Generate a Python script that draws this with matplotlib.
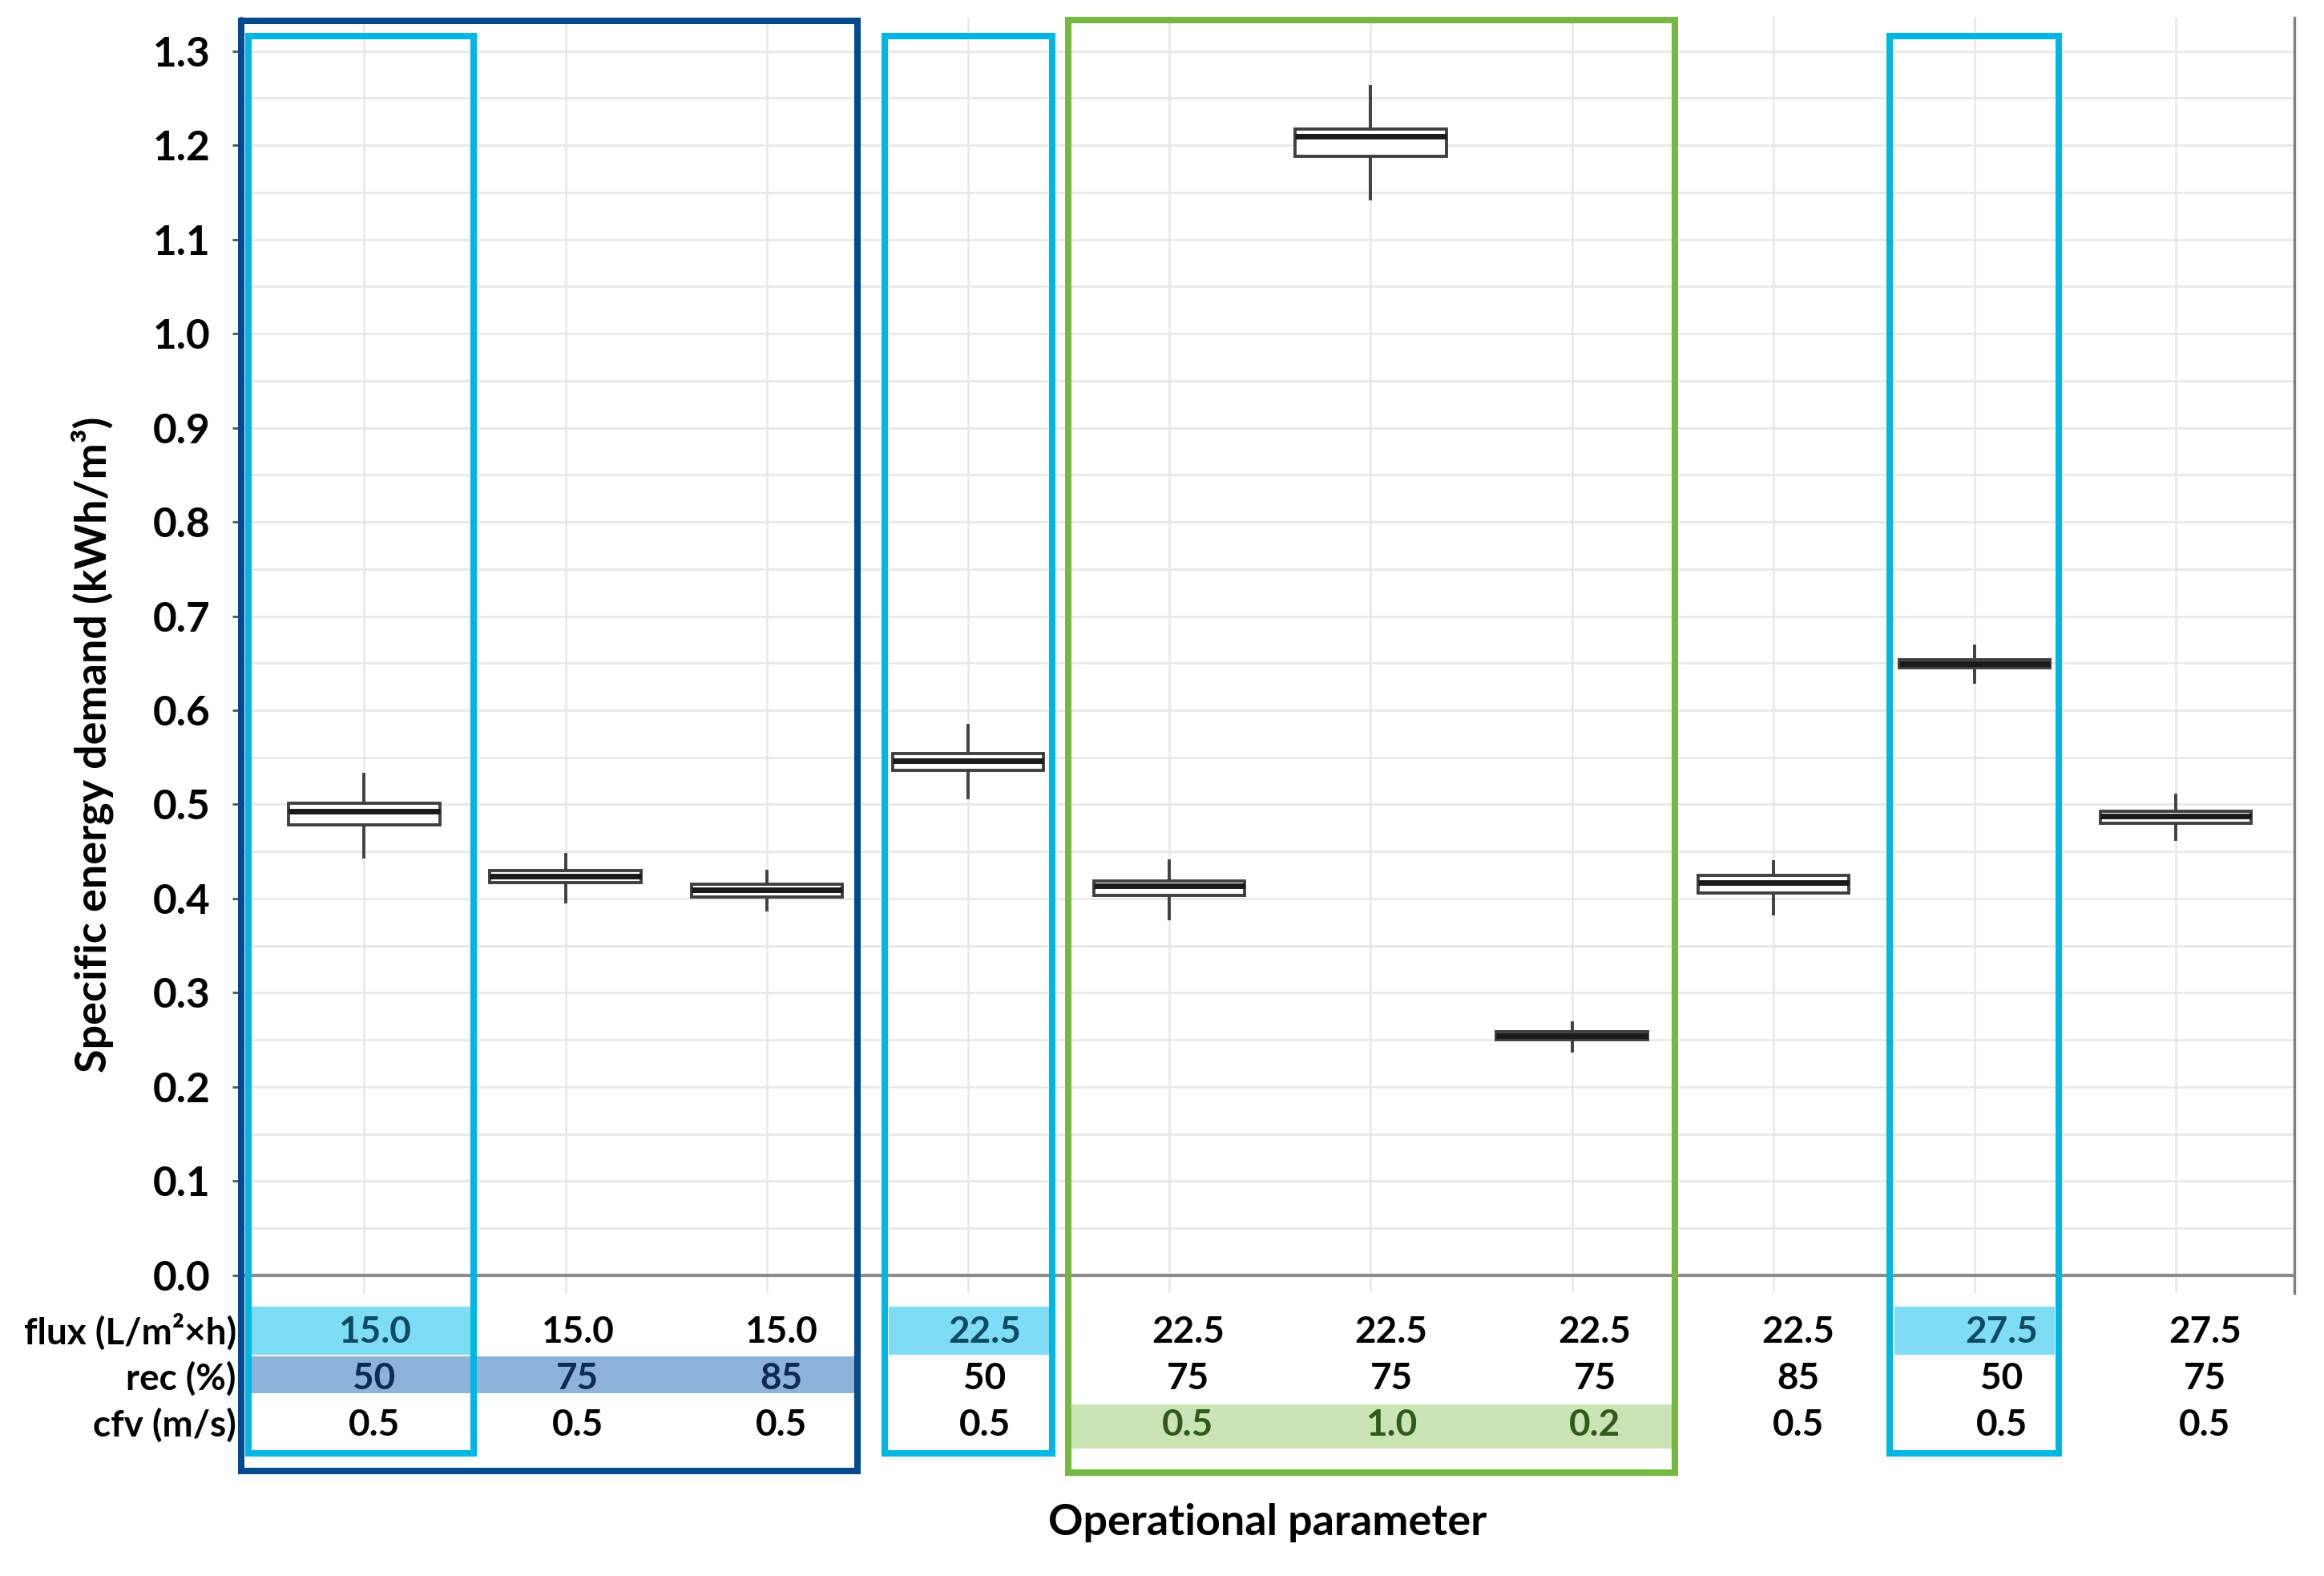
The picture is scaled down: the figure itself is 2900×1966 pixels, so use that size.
import matplotlib
matplotlib.use("Agg")
import matplotlib.pyplot as plt
from matplotlib.patches import Rectangle
import numpy as np

plt.rcParams['font.family'] = ['Lato', 'DejaVu Sans']
plt.rcParams['font.weight'] = 'bold'

# ---------------- data ----------------
flux = ["15.0", "15.0", "15.0", "22.5", "22.5", "22.5", "22.5", "22.5", "27.5", "27.5"]
rec = ["50", "75", "85", "50", "75", "75", "75", "85", "50", "75"]
cfv = ["0.5", "0.5", "0.5", "0.5", "0.5", "1.0", "0.2", "0.5", "0.5", "0.5"]
row_labels = ["flux (L/m²×h)", "rec (%)", "cfv (m/s)"]

whislo = [0.444, 0.397, 0.388, 0.507, 0.379, 1.143, 0.238, 0.384, 0.630, 0.463]
q1     = [0.478, 0.417, 0.402, 0.536, 0.403, 1.188, 0.250, 0.406, 0.645, 0.480]
med    = [0.493, 0.424, 0.409, 0.546, 0.414, 1.209, 0.2545, 0.417, 0.649, 0.488]
q3     = [0.501, 0.430, 0.415, 0.554, 0.419, 1.217, 0.259, 0.4245, 0.654, 0.493]
whishi = [0.532, 0.447, 0.429, 0.584, 0.440, 1.262, 0.268, 0.439, 0.668, 0.510]

yticks = [round(0.1 * i, 1) for i in range(14)]

# ---------------- figure ----------------
fig = plt.figure(figsize=(14.5, 9.83), dpi=200)
ax = fig.add_axes([0.1038, 0.1794, 0.8834, 0.8092])

n = len(flux)
pos = np.arange(n)
stats = [dict(whislo=whislo[i], q1=q1[i], med=med[i], q3=q3[i], whishi=whishi[i], label="")
         for i in range(n)]
ax.bxp(stats, positions=pos, widths=0.75, showcaps=False, showfliers=False, patch_artist=True,
       boxprops=dict(facecolor='white', edgecolor='#404040', linewidth=1.4),
       medianprops=dict(color='#1a1a1a', linewidth=2.5),
       whiskerprops=dict(color='#404040', linewidth=1.4),
       zorder=3)

ax.set_xlim(-0.611, 9.588)
ax.set_ylim(-0.019, 1.335)

# grid
ax.set_yticks(yticks)
ax.set_yticklabels([f"{v:.1f}" for v in yticks], fontsize=18.5, fontweight='bold')
ax.set_yticks(np.arange(0.05, 1.31, 0.1), minor=True)
ax.set_xticks(pos)
ax.set_xticklabels([])
ax.tick_params(axis='x', length=0)
ax.tick_params(axis='y', which='major', length=4, width=1.0, color='#555555', pad=10)
ax.tick_params(axis='y', which='minor', length=0)
ax.grid(True, axis='y', which='both', color='#e6e6e6', linewidth=0.9, zorder=0)
ax.grid(True, axis='x', which='major', color='#e8e8e8', linewidth=0.9, zorder=0)
ax.set_axisbelow(True)

for s in ['top', 'bottom']:
    ax.spines[s].set_visible(False)
ax.spines['left'].set_color('#7f7f7f')
ax.spines['right'].set_color('#7f7f7f')
ax.spines['left'].set_linewidth(1.2)
ax.spines['right'].set_linewidth(1.2)
ax.axhline(0, color='#8c8c8c', linewidth=1.5, zorder=2)

# ---------------- table below the axis ----------------
row_y = [-0.0605, -0.1098, -0.159]
xt = [0.05 + i * 1.0105 for i in range(n)]

bands = [
    # (x0, x1, y0, y1, color)
    (-0.56, 0.53, -0.0843, -0.0332, '#7fdcf5'),
    (2.607, 3.402, -0.0843, -0.0332, '#7fdcf5'),
    (7.60, 8.40, -0.0843, -0.0332, '#7fdcf5'),
    (-0.574, 2.445, -0.125, -0.086, '#8db4d8'),
    (3.505, 6.495, -0.184, -0.137, '#cae4b6'),
]
for x0, x1, y0, y1, c in bands:
    ax.add_patch(Rectangle((x0, y0), x1 - x0, y1 - y0, facecolor=c, edgecolor='none',
                           clip_on=False, zorder=1))

flux_hl = {0, 3, 8}
rec_hl = {0, 1, 2}
cfv_hl = {4, 5, 6}
tfs = 16.5
for i in range(n):
    ax.text(xt[i], row_y[0], flux[i], ha='center', va='center', fontsize=tfs, fontweight='bold',
            color='#0d4a63' if i in flux_hl else 'black', clip_on=False, zorder=6)
    ax.text(xt[i], row_y[1], rec[i], ha='center', va='center', fontsize=tfs, fontweight='bold',
            color='#0f2a55' if i in rec_hl else 'black', clip_on=False, zorder=6)
    ax.text(xt[i], row_y[2], cfv[i], ha='center', va='center', fontsize=tfs, fontweight='bold',
            color='#2f5a1a' if i in cfv_hl else 'black', clip_on=False, zorder=6)

for lab, y in zip(row_labels, row_y):
    ax.text(-0.635, y, lab, ha='right', va='center', fontsize=tfs, fontweight='bold',
            color='black', clip_on=False, zorder=6)

# ---------------- highlight frames ----------------
frames = [
    (-0.611, 2.452, -0.208, 1.332, '#004a8d'),
    (-0.574, 0.545, -0.189, 1.316, '#00b7e3'),
    (2.585, 3.417, -0.189, 1.316, '#00b7e3'),
    (3.498, 6.510, -0.209, 1.333, '#77b843'),
    (7.577, 8.417, -0.189, 1.316, '#00b7e3'),
]
for x0, x1, y0, y1, c in frames:
    ax.add_patch(Rectangle((x0, y0), x1 - x0, y1 - y0, facecolor='none', edgecolor=c,
                           linewidth=2.9, clip_on=False, zorder=5))

# ---------------- labels ----------------
fig.text(0.0397, 0.5275, "Specific energy demand (kWh/m³)", rotation=90, ha='center', va='center',
         fontsize=19.4, fontweight='bold')
fig.text(0.5455, 0.034, "Operational parameter", ha='center', va='center',
         fontsize=19.4, fontweight='bold')

fig.savefig("out.png", dpi=200)
